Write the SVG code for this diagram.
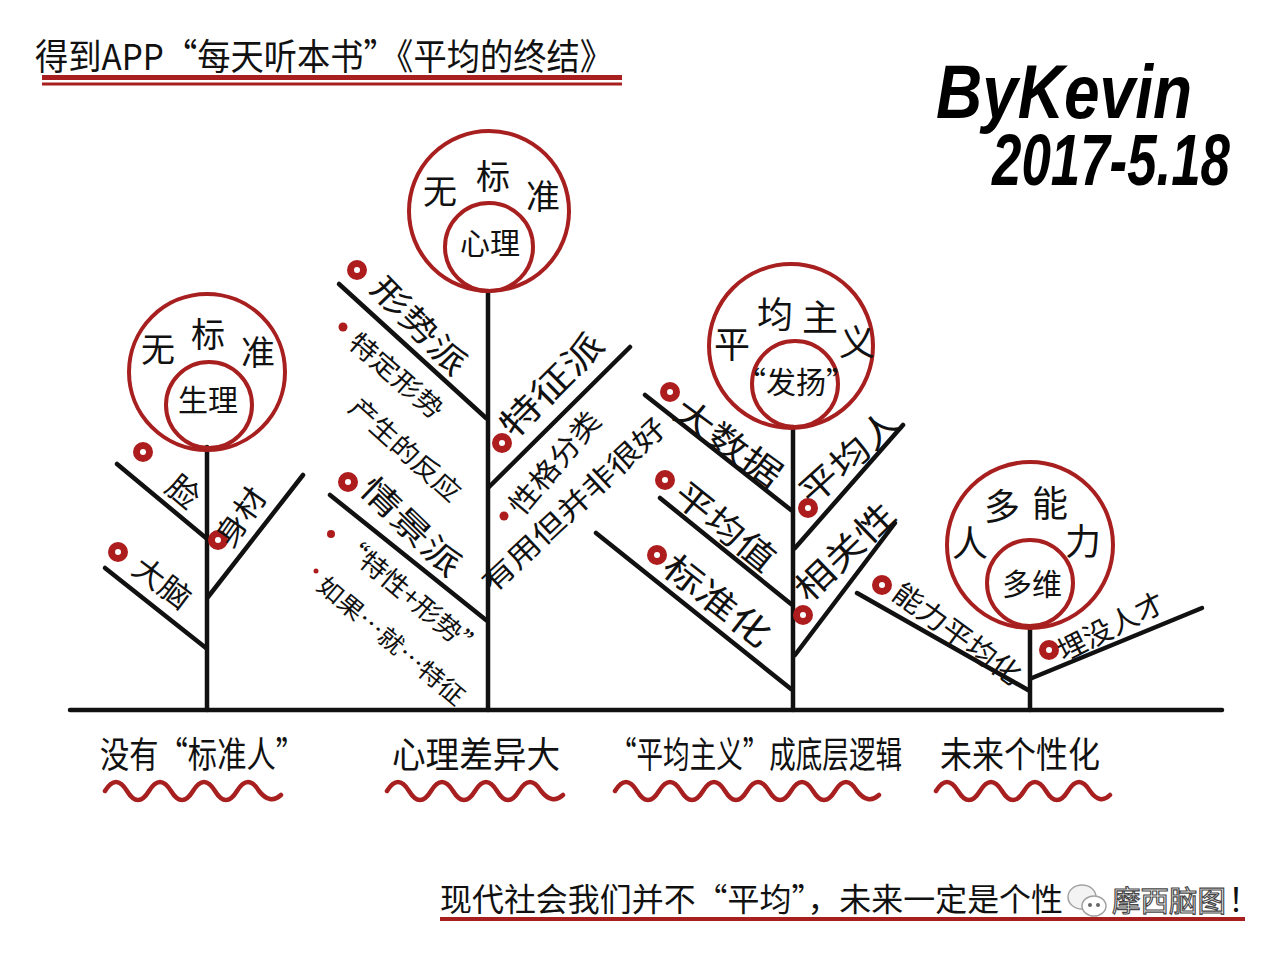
<svg xmlns="http://www.w3.org/2000/svg" xmlns:xlink="http://www.w3.org/1999/xlink" width="1280" height="960" viewBox="0 0 1280 960">
<style>
.t{font-family:"Noto Sans CJK SC","Noto Sans",sans-serif;fill:#111}
.br{stroke:#111;stroke-width:4.5;stroke-linecap:round;fill:none}
.ring{stroke:#a81f1f;stroke-width:4;fill:none}
.wave{stroke:#a81f1f;stroke-width:4.5;fill:none;stroke-linecap:round;stroke-linejoin:round}
.red{fill:#a81f1f}
.hand{font-family:"Liberation Sans",sans-serif;font-style:italic;font-weight:bold;fill:#000}
</style>
<defs>
<g id="dot"><circle r="10" fill="#ad1d1d"/><circle r="3" fill="#fff"/></g>
</defs>
<rect width="1280" height="960" fill="#fff"/>

<g id="title">
<text class="t" x="35" y="70" font-size="36" textLength="578" lengthAdjust="spacingAndGlyphs">得到APP“每天听本书”《平均的终结》</text>
<rect x="42" y="75" width="580" height="5" class="red"/>
<rect x="42" y="82.5" width="580" height="3" class="red"/>
</g>

<g id="author">
<text class="hand" transform="translate(936,118) scale(1,1.2)" font-size="64" textLength="256" lengthAdjust="spacingAndGlyphs">ByKevin</text>
<text class="hand" transform="translate(992,185) scale(1,1.4)" font-size="52" textLength="238" lengthAdjust="spacingAndGlyphs">2017-5.18</text>
</g>

<g id="connectors">
<line class="br" x1="70" y1="710" x2="1222" y2="710"/>
<!-- plant 1 -->
<line class="br" x1="207" y1="447" x2="207" y2="710"/>
<line class="br" x1="117" y1="464" x2="206" y2="538"/>
<line class="br" x1="208" y1="597" x2="303" y2="475"/>
<line class="br" x1="105" y1="568" x2="206" y2="648"/>
<!-- plant 2 -->
<line class="br" x1="488" y1="291" x2="488" y2="710"/>
<line class="br" x1="339" y1="284" x2="486" y2="418"/>
<line class="br" x1="489" y1="487" x2="630" y2="347"/>
<line class="br" x1="330" y1="495" x2="486" y2="620"/>
<!-- plant 3 -->
<line class="br" x1="793" y1="427" x2="793" y2="710"/>
<line class="br" x1="645" y1="395" x2="791" y2="510"/>
<line class="br" x1="795" y1="548" x2="903" y2="425"/>
<line class="br" x1="660" y1="498" x2="791" y2="604"/>
<line class="br" x1="795" y1="655" x2="895" y2="523"/>
<line class="br" x1="596" y1="533" x2="791" y2="689"/>
<!-- plant 4 -->
<line class="br" x1="1030" y1="627" x2="1030" y2="710"/>
<line class="br" x1="857" y1="593" x2="1028" y2="690"/>
<line class="br" x1="1032" y1="678" x2="1202" y2="608"/>
</g>

<g id="plant1">
<circle class="ring" cx="207" cy="372" r="78"/>
<circle class="ring" cx="209" cy="405" r="43"/>
<text class="t" font-size="34" text-anchor="middle" x="158" y="362">无</text>
<text class="t" font-size="34" text-anchor="middle" x="208" y="347">标</text>
<text class="t" font-size="34" text-anchor="middle" x="258" y="365">准</text>
<text class="t" font-size="30" text-anchor="middle" x="208" y="411">生理</text>
<use xlink:href="#dot" x="143" y="452"/>
<use xlink:href="#dot" x="218" y="540"/>
<use xlink:href="#dot" x="118" y="552"/>
<text class="t" font-size="32" text-anchor="middle" transform="translate(183,492) rotate(40)" dy="0.35em">脸</text>
<text class="t" font-size="30" text-anchor="middle" transform="translate(241,517) rotate(-55)" dy="0.35em" textLength="64" lengthAdjust="spacingAndGlyphs">身材</text>
<text class="t" font-size="30" text-anchor="middle" transform="translate(162,583) rotate(37)" dy="0.35em" textLength="64" lengthAdjust="spacingAndGlyphs">大脑</text>
</g>

<g id="plant2">
<circle class="ring" cx="489" cy="211" r="80"/>
<circle class="ring" cx="489" cy="247" r="44"/>
<text class="t" font-size="34" text-anchor="middle" x="440" y="204">无</text>
<text class="t" font-size="34" text-anchor="middle" x="493" y="189">标</text>
<text class="t" font-size="34" text-anchor="middle" x="543" y="209">准</text>
<text class="t" font-size="30" text-anchor="middle" x="490" y="254">心理</text>
<use xlink:href="#dot" x="357" y="270"/>
<circle cx="343" cy="327" r="4.5" fill="#ad1d1d"/>
<use xlink:href="#dot" x="348" y="482"/>
<circle cx="331" cy="534" r="4" fill="#ad1d1d"/>
<circle cx="316" cy="571" r="2.5" fill="#ad1d1d"/>
<use xlink:href="#dot" x="502" y="443"/>
<circle cx="504" cy="516" r="4.5" fill="#ad1d1d"/>
<text class="t" font-size="32" text-anchor="middle" transform="translate(419,326) rotate(46)" dy="0.35em" textLength="122" lengthAdjust="spacingAndGlyphs">形势派</text>
<text class="t" font-size="26" text-anchor="middle" transform="translate(396,376) rotate(41)" dy="0.35em" textLength="115" lengthAdjust="spacingAndGlyphs">特定形势</text>
<text class="t" font-size="26" text-anchor="middle" transform="translate(405,450) rotate(42)" dy="0.35em" textLength="140" lengthAdjust="spacingAndGlyphs">产生的反应</text>
<text class="t" font-size="32" text-anchor="middle" transform="translate(411,527) rotate(44)" dy="0.35em" textLength="126" lengthAdjust="spacingAndGlyphs">情景派</text>
<text class="t" font-size="26" text-anchor="middle" transform="translate(411,597) rotate(40)" dy="0.35em" textLength="179" lengthAdjust="spacingAndGlyphs">“特性+形势”</text>
<text class="t" font-size="24" text-anchor="middle" transform="translate(391,641) rotate(40)" dy="0.35em" textLength="184" lengthAdjust="spacingAndGlyphs">如果…就…特征</text>
<text class="t" font-size="34" text-anchor="middle" transform="translate(552,385) rotate(-45)" dy="0.35em" textLength="131" lengthAdjust="spacingAndGlyphs">特征派</text>
<text class="t" font-size="28" text-anchor="middle" transform="translate(555,463) rotate(-50)" dy="0.35em" textLength="125" lengthAdjust="spacingAndGlyphs">性格分类</text>
<text class="t" font-size="28" text-anchor="middle" transform="translate(574,505) rotate(-43)" dy="0.35em" textLength="240" lengthAdjust="spacingAndGlyphs">有用但并非很好</text>
</g>

<g id="plant3">
<circle class="ring" cx="791" cy="346" r="82"/>
<circle class="ring" cx="795" cy="384" r="43"/>
<text class="t" font-size="36" text-anchor="middle" x="732" y="358">平</text>
<text class="t" font-size="36" text-anchor="middle" x="775" y="328">均</text>
<text class="t" font-size="36" text-anchor="middle" x="820" y="331">主</text>
<text class="t" font-size="36" text-anchor="middle" x="857" y="356">义</text>
<text class="t" font-size="30" text-anchor="middle" x="796" y="393">“发扬”</text>
<use xlink:href="#dot" x="670" y="392"/>
<use xlink:href="#dot" x="665" y="480"/>
<use xlink:href="#dot" x="657" y="555"/>
<use xlink:href="#dot" x="808" y="508"/>
<use xlink:href="#dot" x="803" y="615"/>
<text class="t" font-size="34" text-anchor="middle" transform="translate(728,443) rotate(36)" dy="0.35em" textLength="124" lengthAdjust="spacingAndGlyphs">大数据</text>
<text class="t" font-size="34" text-anchor="middle" transform="translate(725,527) rotate(39)" dy="0.35em" textLength="119" lengthAdjust="spacingAndGlyphs">平均值</text>
<text class="t" font-size="34" text-anchor="middle" transform="translate(717,601) rotate(38)" dy="0.35em" textLength="126" lengthAdjust="spacingAndGlyphs">标准化</text>
<text class="t" font-size="34" text-anchor="middle" transform="translate(850,457) rotate(-42)" dy="0.35em" textLength="123" lengthAdjust="spacingAndGlyphs">平均人</text>
<text class="t" font-size="34" text-anchor="middle" transform="translate(845,552) rotate(-44)" dy="0.35em" textLength="124" lengthAdjust="spacingAndGlyphs">相关性</text>
</g>

<g id="plant4">
<circle class="ring" cx="1030" cy="545" r="83"/>
<circle class="ring" cx="1030" cy="583" r="43"/>
<text class="t" font-size="36" text-anchor="middle" x="1002" y="520">多</text>
<text class="t" font-size="36" text-anchor="middle" x="1050" y="517">能</text>
<text class="t" font-size="36" text-anchor="middle" x="970" y="557">人</text>
<text class="t" font-size="36" text-anchor="middle" x="1083" y="555">力</text>
<text class="t" font-size="30" text-anchor="middle" x="1032" y="595">多维</text>
<use xlink:href="#dot" x="882" y="585"/>
<use xlink:href="#dot" x="1049" y="650"/>
<text class="t" font-size="28" text-anchor="middle" transform="translate(957,634) rotate(36)" dy="0.35em" textLength="151" lengthAdjust="spacingAndGlyphs">能力平均化</text>
<text class="t" font-size="28" text-anchor="middle" transform="translate(1111,627) rotate(-27)" dy="0.35em" textLength="116" lengthAdjust="spacingAndGlyphs">埋没人才</text>
</g>

<g id="summary">
<text class="t" font-size="36" x="100" y="768" textLength="205" lengthAdjust="spacingAndGlyphs">没有“标准人”</text>
<text class="t" font-size="36" x="392" y="768" textLength="168" lengthAdjust="spacingAndGlyphs">心理差异大</text>
<text class="t" font-size="30" transform="translate(610,768) scale(1,1.2)" textLength="292" lengthAdjust="spacingAndGlyphs">“平均主义”成底层逻辑</text>
<text class="t" font-size="36" x="940" y="768" textLength="160" lengthAdjust="spacingAndGlyphs">未来个性化</text>
<path class="wave" d="M105 791 Q116 773 127 791 Q138 809 149 791 Q160 773 171 791 Q182 809 193 791 Q204 773 215 791 Q226 809 237 791 Q248 773 259 791 Q270 805 281 795"/>
<path class="wave" d="M387 791 Q398 773 409 791 Q420 809 431 791 Q442 773 453 791 Q464 809 475 791 Q486 773 497 791 Q508 809 519 791 Q530 773 541 791 Q552 805 563 795"/>
<path class="wave" d="M615 791 Q626 773 637 791 Q648 809 659 791 Q670 773 681 791 Q692 809 703 791 Q714 773 725 791 Q736 809 747 791 Q758 773 769 791 Q780 809 791 791 Q802 773 813 791 Q824 809 835 791 Q846 773 857 791 Q868 805 879 795"/>
<path class="wave" d="M936 791 Q947 773 958 791 Q969 809 980 791 Q991 773 1002 791 Q1013 809 1024 791 Q1035 773 1046 791 Q1057 809 1068 791 Q1079 773 1090 791 Q1100 805 1110 795"/>
</g>

<g id="conclusion">
<text class="t" font-size="32" x="440" y="911" textLength="623" lengthAdjust="spacingAndGlyphs">现代社会我们并不“平均”，未来一定是个性</text>
<text class="t" font-size="32" x="1228" y="911">！</text>
<rect x="440" y="917" width="805" height="4" class="red"/>
<g id="watermark" opacity="0.9">
<ellipse cx="1082" cy="897" rx="14" ry="12" fill="#f2f2f2" stroke="#999" stroke-width="1.5"/>
<ellipse cx="1094" cy="906" rx="12" ry="10" fill="#fff" stroke="#999" stroke-width="1.5"/>
<circle cx="1090" cy="905" r="2" fill="#555"/>
<circle cx="1098" cy="905" r="2" fill="#555"/>
<text x="1112" y="912" font-size="29" font-family="Noto Sans CJK SC,sans-serif" fill="#fff" stroke="#333" stroke-width="1.2" textLength="114" lengthAdjust="spacingAndGlyphs">摩西脑图</text>
</g>
</g>
</svg>
